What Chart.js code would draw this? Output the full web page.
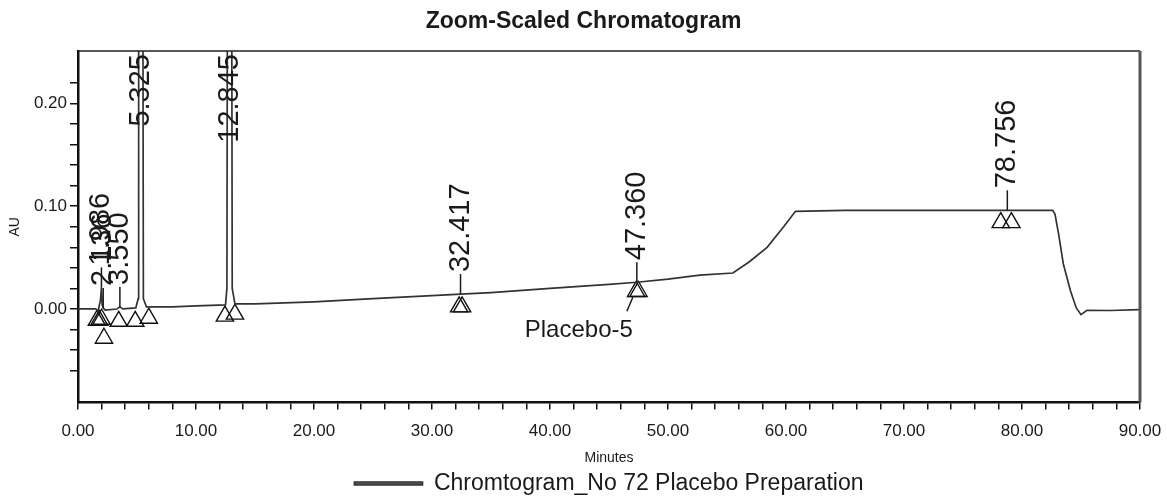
<!DOCTYPE html>
<html>
<head>
<meta charset="utf-8">
<script src="https://cdn.jsdelivr.net/npm/chart.js@4.4.1/dist/chart.umd.min.js"></script>
<style>
  html, body { margin: 0; padding: 0; background: #fff; }
</style>
</head>
<body>
<canvas id="chromChart" width="1167" height="497"></canvas>
<script>
// Chromatogram trace (minutes / AU)
const traceTimes = [0, 1.5, 1.7, 1.9, 1.986, 2.05, 2.136, 2.3, 3.3, 3.55, 3.8, 4.9,
  5.10, 5.14, 5.325, 5.50, 5.54, 5.8, 8, 10, 12.5,
  12.62, 12.66, 12.845, 13.03, 13.07, 13.3, 15, 20, 25, 30, 32.417, 35, 40, 45, 47.36, 50, 52.7,
  55.5, 56.9, 58.4, 59.8, 60.8, 65, 70, 75, 78.756, 82.6,
  82.8, 83.1, 83.5, 84.1, 84.6, 85.0, 85.5, 87.5, 90];
const traceAU = [0.000, 0.000, -0.002, 0.008, 0.021, 0.004, 0.001, -0.001, 0.000, 0.002, 0.000, 0.001,
  0.010, 0.300, 0.620, 0.300, 0.010, 0.002, 0.002, 0.003, 0.004,
  0.020, 0.300, 0.550, 0.300, 0.020, 0.005, 0.005, 0.007, 0.010, 0.013, 0.0145, 0.016, 0.020, 0.024, 0.026, 0.029, 0.033,
  0.035, 0.046, 0.060, 0.080, 0.095, 0.096, 0.096, 0.096, 0.096, 0.096,
  0.092, 0.073, 0.044, 0.018, 0.001, -0.0055, -0.0013, -0.0015, -0.0006];

// Peak start / end markers (triangles)
const markerTimes = [1.6, 1.8, 2.0, 2.2, 3.45, 4.85, 6.0, 12.45, 13.3, 32.3, 32.55, 47.3, 47.5, 78.2, 79.1];
const markerAU = [-0.011, -0.011, -0.010, -0.0285, -0.012, -0.012, -0.009, -0.007, -0.005, 0.002, 0.002, 0.017, 0.017, 0.084, 0.084];

// Peak retention-time labels
const peakTimes = [1.986, 2.136, 3.550, 5.325, 12.845, 32.417, 47.360, 78.756];
const peakApexAU = [0.021, 0.001, 0.002, 0.620, 0.550, 0.0145, 0.026, 0.096];
const peakLabels = ['1.986', '2.136', '3.550', '5.325', '12.845', '32.417', '47.360', '78.756'];

// Named peak
const namedPeakTime = 47.360;
const namedPeakText = 'Placebo-5';

// Axis ticks
const xMajorTicks = [0, 10, 20, 30, 40, 50, 60, 70, 80, 90];
const yMajorTicks = [0.00, 0.10, 0.20];

const FONT = '"Liberation Sans", Arial, sans-serif';
const INK = '#1a1a1a';

const isMajor = (list, v) => list.some(m => Math.abs(m - v) < 1e-6);

// Top/right frame of the plot box
const framePlugin = {
  id: 'frame',
  afterDraw(chart) {
    const { ctx, chartArea: a } = chart;
    ctx.save();
    ctx.strokeStyle = '#222';
    ctx.lineWidth = 1.5;
    ctx.beginPath();
    ctx.moveTo(a.left, a.top);
    ctx.lineTo(a.right, a.top);
    ctx.stroke();
    ctx.strokeStyle = '#555';
    ctx.lineWidth = 3;
    ctx.beginPath();
    ctx.moveTo(a.right, a.top);
    ctx.lineTo(a.right, a.bottom);
    ctx.stroke();
    ctx.restore();
  }
};

// Vertical retention-time labels + named peak label
const peakLabelPlugin = {
  id: 'peakLabels',
  afterDatasetsDraw(chart) {
    const { ctx, chartArea: a, scales: { x, y } } = chart;
    ctx.save();
    ctx.font = '29px ' + FONT;
    ctx.fillStyle = INK;
    ctx.strokeStyle = INK;
    ctx.lineWidth = 1.5;
    peakTimes.forEach((t, i) => {
      const px = x.getPixelForValue(t);
      const apex = peakApexAU[i];
      ctx.save();
      ctx.textBaseline = 'middle';
      if (apex > y.max) {
        ctx.translate(px, 0);
        ctx.rotate(-Math.PI / 2);
        ctx.textAlign = 'right';
        ctx.fillText(peakLabels[i], -(a.top + 3), 0);
      } else {
        const py = y.getPixelForValue(apex);
        ctx.beginPath();
        ctx.moveTo(px, py);
        ctx.lineTo(px, py - 20);
        ctx.stroke();
        ctx.translate(px, 0);
        ctx.rotate(-Math.PI / 2);
        ctx.textAlign = 'left';
        ctx.fillText(peakLabels[i], -(py - 22), 0);
      }
      ctx.restore();
    });

    // named peak text with leader line
    const nx = x.getPixelForValue(namedPeakTime);
    const ny = y.getPixelForValue(peakApexAU[peakTimes.indexOf(namedPeakTime)]);
    ctx.beginPath();
    ctx.moveTo(nx - 4, ny + 15);
    ctx.lineTo(nx - 10, ny + 29);
    ctx.stroke();
    ctx.font = '24px ' + FONT;
    ctx.textAlign = 'right';
    ctx.textBaseline = 'middle';
    ctx.fillText(namedPeakText, nx - 4, ny + 48);
    ctx.restore();
  }
};

new Chart(document.getElementById('chromChart'), {
  type: 'line',
  data: {
    datasets: [
      {
        label: 'Chromtogram_No 72 Placebo Preparation',
        data: traceTimes.map((t, i) => ({ x: t, y: traceAU[i] })),
        borderColor: '#333',
        backgroundColor: '#555',
        borderWidth: 1.7,
        pointRadius: 0,
        tension: 0,
        fill: false
      },
      {
        label: 'markers',
        type: 'scatter',
        data: markerTimes.map((t, i) => ({ x: t, y: markerAU[i] })),
        pointStyle: 'triangle',
        pointRadius: 10,
        borderColor: '#111',
        borderWidth: 1.4,
        backgroundColor: 'rgba(0,0,0,0)',
        showLine: false
      }
    ]
  },
  options: {
    responsive: false,
    animation: false,
    layout: { padding: { left: 0, right: 0, top: 0, bottom: -8 } },
    plugins: {
      title: {
        display: true,
        text: 'Zoom-Scaled Chromatogram',
        color: INK,
        font: { family: FONT, size: 23, weight: 'bold' },
        padding: { top: 8, bottom: 15.4 }
      },
      legend: {
        display: true,
        position: 'bottom',
        fullSize: false,
        labels: {
          filter: item => item.datasetIndex === 0,
          color: INK,
          font: { family: FONT, size: 23 },
          boxWidth: 68,
          boxHeight: 3,
          padding: 0
        }
      },
      tooltip: { enabled: false }
    },
    scales: {
      x: {
        type: 'linear',
        min: 0,
        max: 90,
        afterFit: s => { s.height = 69.5; s.paddingLeft = 0; s.paddingRight = 0; },
        ticks: {
          stepSize: 2,
          autoSkip: false,
          maxRotation: 0,
          color: INK,
          font: { family: FONT, size: 17 },
          padding: 12,
          callback: v => isMajor(xMajorTicks, v) ? v.toFixed(2) : ''
        },
        grid: { drawOnChartArea: false, drawTicks: true, tickLength: 7, color: '#111', lineWidth: 1.5 },
        border: { display: true, color: '#111', width: 2.5 },
        title: {
          display: true,
          text: 'Minutes',
          color: INK,
          font: { family: FONT, size: 14 },
          padding: { top: 0, bottom: 5 }
        }
      },
      y: {
        type: 'linear',
        min: -0.091,
        max: 0.251,
        afterFit: s => { s.width = 78; },
        afterBuildTicks: s => {
          s.ticks = s.ticks.filter(t => Math.abs(t.value * 50 - Math.round(t.value * 50)) < 1e-6);
        },
        ticks: {
          stepSize: 0.02,
          autoSkip: false,
          color: INK,
          font: { family: FONT, size: 17 },
          padding: 3,
          callback: v => isMajor(yMajorTicks, v) ? v.toFixed(2) : ''
        },
        grid: { drawOnChartArea: false, drawTicks: true, tickLength: 8, color: '#111', lineWidth: 1.5 },
        border: { display: true, color: '#111', width: 2.5 },
        title: {
          display: true,
          text: 'AU',
          color: INK,
          font: { family: FONT, size: 14 },
          padding: { top: 7, bottom: 0 }
        }
      },
      // empty right-hand margin of the plot box
      yRight: {
        type: 'linear',
        position: 'right',
        min: -0.091,
        max: 0.251,
        afterFit: s => { s.width = 27; },
        ticks: { display: false },
        grid: { display: false },
        border: { display: false }
      }
    }
  },
  plugins: [framePlugin, peakLabelPlugin]
});
</script>
</body>
</html>
